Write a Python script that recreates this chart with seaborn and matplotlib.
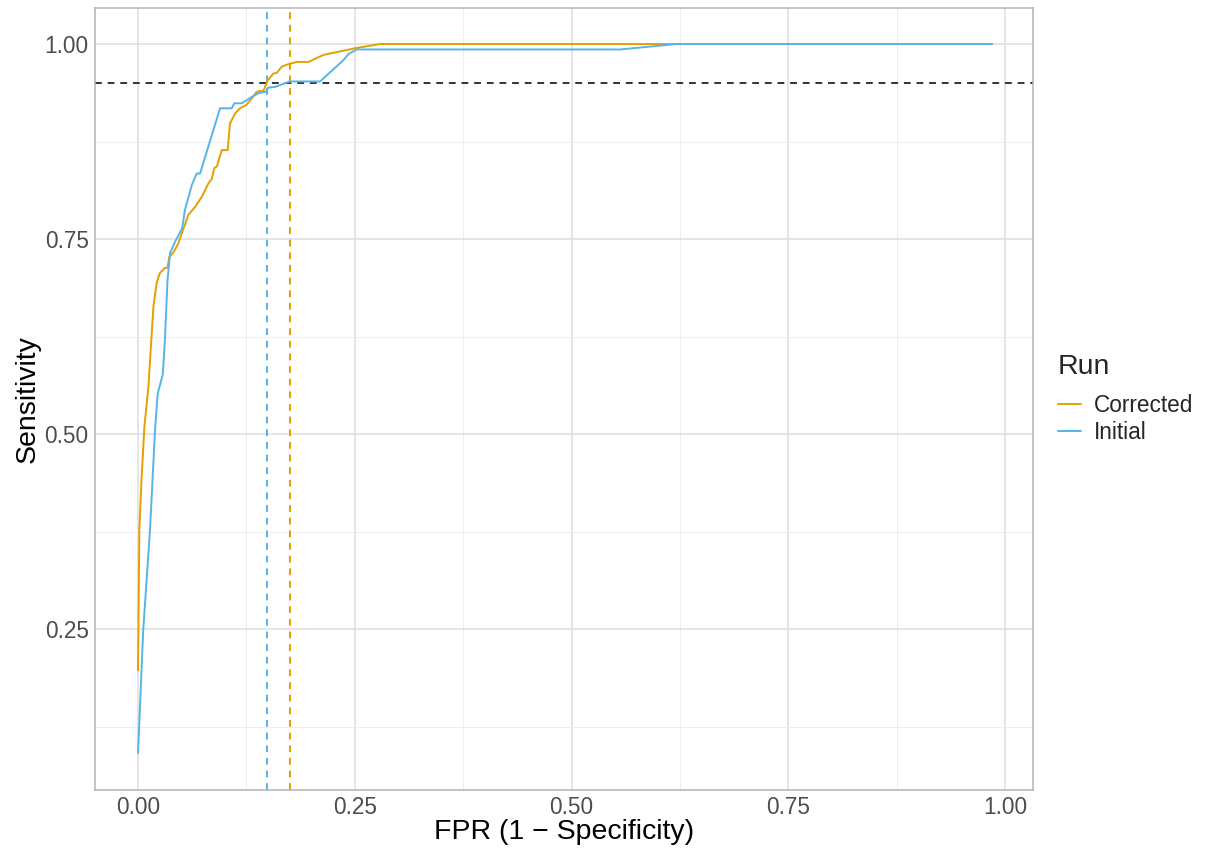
import pandas as pd
import numpy as np
import matplotlib.pyplot as plt
import seaborn as sns

sns.set_style('white')
plt.rcParams['font.family'] = ['Liberation Sans', 'DejaVu Sans']

# ROC points
corrected_fpr = [0, 0.0015, 0.004, 0.0073, 0.012, 0.0177, 0.0215, 0.025, 0.031, 0.034,
                 0.036, 0.041, 0.0465, 0.052, 0.058, 0.0657, 0.0735, 0.081, 0.085, 0.088,
                 0.091, 0.093, 0.0965, 0.1034, 0.106, 0.112, 0.1176, 0.125, 0.131, 0.137,
                 0.1446, 0.150, 0.156, 0.160, 0.1657, 0.173, 0.183, 0.1965, 0.2137, 0.235,
                 0.250, 0.279, 0.985]
corrected_tpr = [0.197, 0.377, 0.441, 0.509, 0.561, 0.663, 0.694, 0.706, 0.713, 0.713,
                 0.727, 0.733, 0.7445, 0.762, 0.781, 0.791, 0.804, 0.821, 0.827, 0.841,
                 0.843, 0.851, 0.864, 0.864, 0.898, 0.911, 0.9176, 0.922, 0.930, 0.939,
                 0.940, 0.954, 0.962, 0.963, 0.971, 0.974, 0.977, 0.977, 0.986, 0.991,
                 0.9945, 1.0, 1.0]

initial_fpr = [0, 0.006, 0.0138, 0.0196, 0.0227, 0.0285, 0.031, 0.034, 0.037, 0.0427,
               0.051, 0.054, 0.062, 0.0677, 0.0715, 0.0946, 0.108, 0.111, 0.1196, 0.131,
               0.139, 0.148, 0.150, 0.158, 0.175, 0.210, 0.237, 0.2426, 0.252, 0.556,
               0.621, 0.985]
initial_tpr = [0.091, 0.249, 0.377, 0.505, 0.552, 0.576, 0.621, 0.697, 0.732, 0.7465,
               0.764, 0.787, 0.819, 0.834, 0.834, 0.9176, 0.9176, 0.924, 0.924, 0.932,
               0.937, 0.939, 0.944, 0.945, 0.952, 0.952, 0.9795, 0.987, 0.993, 0.993,
               1.0, 1.0]

runs = ['Corrected', 'Initial']
run_colors = {'Corrected': '#E69F00', 'Initial': '#56B4E9'}
cutoff_fpr = {'Corrected': 0.175, 'Initial': 0.149}
target_sens = 0.95

df = pd.concat([
    pd.DataFrame({'fpr': corrected_fpr, 'tpr': corrected_tpr, 'Run': 'Corrected'}),
    pd.DataFrame({'fpr': initial_fpr, 'tpr': initial_tpr, 'Run': 'Initial'}),
], ignore_index=True)

fig = plt.figure(figsize=(12.06, 8.49), dpi=100)
ax = fig.add_axes([0.0788, 0.0695, 0.7778, 0.9211])

sns.lineplot(data=df, x='fpr', y='tpr', hue='Run', hue_order=runs,
             palette=run_colors, estimator=None, linewidth=1.4, ax=ax, zorder=3)

ax.axhline(target_sens, color='#333333', linestyle=(0, (3.5, 3)), linewidth=1.4, zorder=2)
for run in runs:
    ax.axvline(cutoff_fpr[run], color=run_colors[run], linestyle=(0, (3.5, 3)),
               linewidth=1.4, zorder=2)

ax.set_xlim(-0.0496, 1.0323)
ax.set_ylim(0.0436, 1.0462)
ax.set_xticks([0, 0.25, 0.5, 0.75, 1.0])
ax.set_xticklabels(['0.00', '0.25', '0.50', '0.75', '1.00'])
ax.set_yticks([0.25, 0.5, 0.75, 1.0])
ax.set_yticklabels(['0.25', '0.50', '0.75', '1.00'])
ax.set_xticks([0.125, 0.375, 0.625, 0.875], minor=True)
ax.set_yticks([0.125, 0.375, 0.625, 0.875], minor=True)

ax.grid(which='major', color='#DEDEDE', linewidth=1.1, zorder=0)
ax.grid(which='minor', color='#EBEBEB', linewidth=0.6, zorder=0)
ax.set_axisbelow(True)
for s in ax.spines.values():
    s.set_color('#B3B3B3')
    s.set_linewidth(1.1)

ax.tick_params(which='major', length=3.6, width=1, color='#B3B3B3',
               labelsize=16.3, labelcolor='#4D4D4D', pad=1)
ax.tick_params(which='minor', length=0)
ax.set_xlabel('FPR (1 \u2212 Specificity)', fontsize=20.5, color='black', labelpad=0)
ax.set_ylabel('Sensitivity', fontsize=20.5, color='black', labelpad=3)

leg = ax.legend(title='Run', loc='center left', bbox_to_anchor=(1.005, 0.5),
                frameon=False, fontsize=16.3, title_fontsize=20.5,
                handlelength=1.0, handletextpad=0.6, labelspacing=0.15)
leg._legend_box.align = 'left'
leg._legend_box.sep = 10
for line in leg.get_lines():
    line.set_linewidth(1.4)

fig.savefig('out.png', dpi=100)
plt.close()
